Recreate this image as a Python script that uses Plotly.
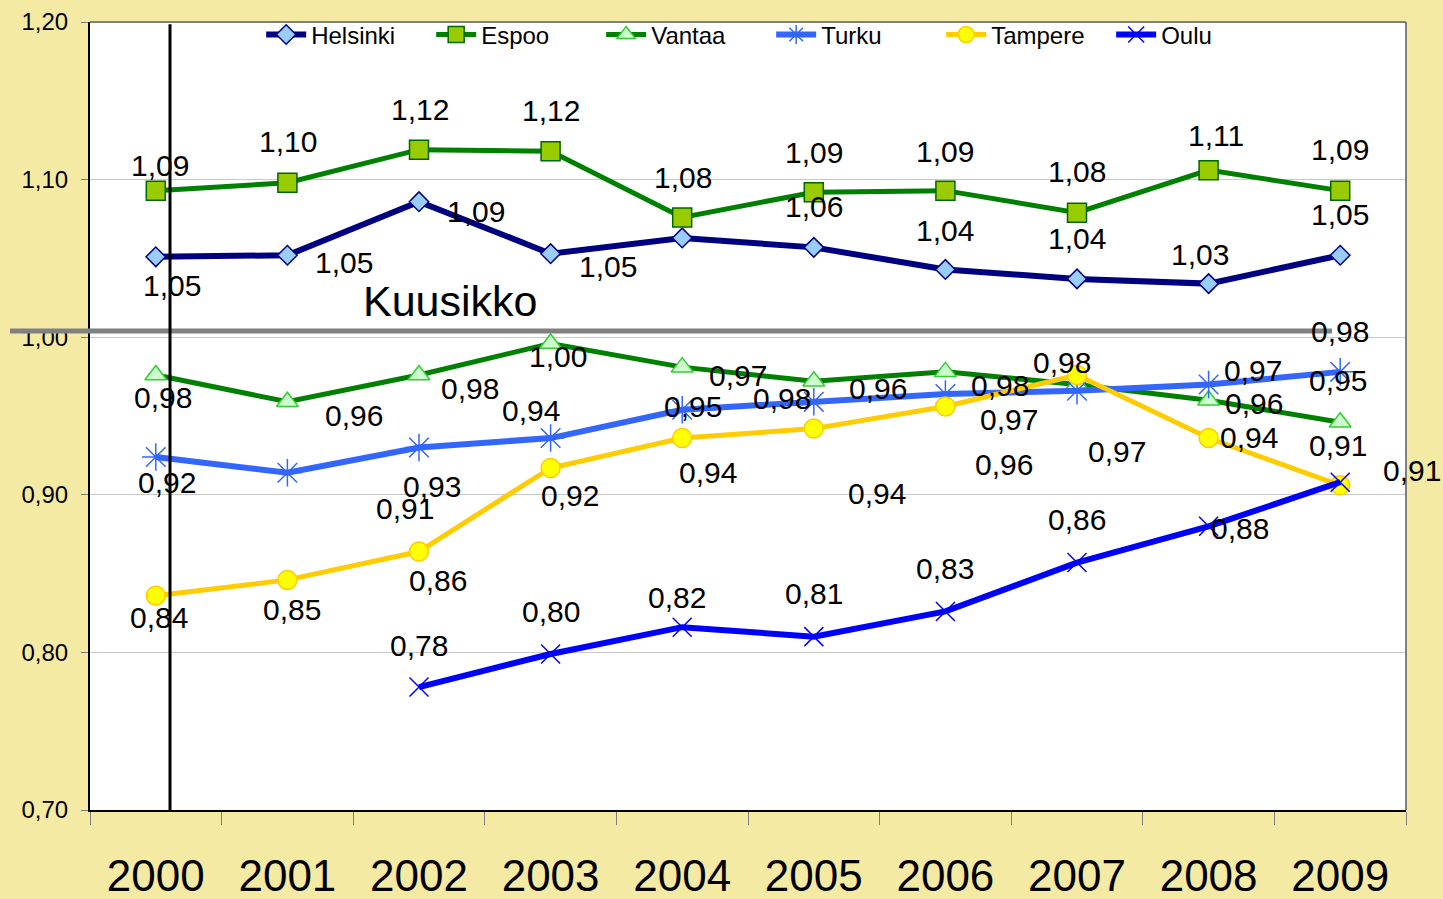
import plotly.graph_objects as go

# ---------------- data ----------------
years = ["2000", "2001", "2002", "2003", "2004", "2005", "2006", "2007", "2008", "2009"]

helsinki = [1.051, 1.052, 1.086, 1.053, 1.063, 1.057, 1.043, 1.037, 1.034, 1.052]
espoo    = [1.093, 1.098, 1.119, 1.118, 1.076, 1.092, 1.093, 1.079, 1.106, 1.093]
vantaa   = [0.976, 0.959, 0.976, 0.996, 0.981, 0.972, 0.978, 0.970, 0.960, 0.946]
turku    = [0.924, 0.914, 0.930, 0.936, 0.954, 0.959, 0.964, 0.966, 0.970, 0.978]
tampere  = [0.836, 0.846, 0.864, 0.917, 0.936, 0.942, 0.956, 0.976, 0.936, 0.906]
oulu     = [None, None, 0.778, 0.799, 0.816, 0.810, 0.826, 0.857, 0.880, 0.908]

kuusikko_level = 1.004
kuusikko_text = "Kuusikko"

# ---------------- label placement (pixel offsets from each point; None = no label) ----------------
helsinki_lbl = [(16, -31), (57, -9), (57, -12), (57, -15), None, (0, 39), (0, 37), (0, 38), (-9, 27), (0, 39)]
espoo_lbl    = [(4, 23), (1, 39), (1, 38), (0, 39), (1, 38), (0, 38), (0, 37), (0, 39), (7, 33), (0, 39)]
vantaa_lbl   = [(7, -24), (67, -16), (51, -15), (7, -15), (100, -33), (-76, 4), (55, -16), (-68, -37), (45, -5), (-2, 40)]
turku_lbl    = [(11, -28), (118, -38), (13, -41), (-20, 26), (11, 1), (64, 11), None, (40, -63), (44, 12), (0, 38)]
tampere_lbl  = [(3, -24), (5, -32), (19, -31), (19, -29), (26, -36), (63, -67), (59, -60), (-15, 11), (40, -1), (-2, 38)]
oulu_lbl     = [None, None, (0, 40), (0, 40), (-5, 28), (0, 41), (0, 41), (0, 41), (31, -4), (72, 10)]

FONT = "Liberation Sans, Arial, sans-serif"

series = [
    dict(name="Helsinki", y=helsinki, lbl=helsinki_lbl, color="#000080", width=6,
         marker=dict(symbol="diamond", size=15, color="#99CCFF", line=dict(color="#000080", width=1.5))),
    dict(name="Espoo", y=espoo, lbl=espoo_lbl, color="#008000", width=5,
         marker=dict(symbol="square", size=19, color="#99CC00", line=dict(color="#006600", width=1.5))),
    dict(name="Vantaa", y=vantaa, lbl=vantaa_lbl, color="#008000", width=5,
         marker=dict(symbol="triangle-up", size=19, color="#CCFFCC", line=dict(color="#33CC33", width=1.5))),
    dict(name="Turku", y=turku, lbl=turku_lbl, color="#3366FF", width=6,
         marker=dict(symbol="asterisk-open", size=23, color="#3366FF", line=dict(color="#3366FF", width=1.5))),
    dict(name="Tampere", y=tampere, lbl=tampere_lbl, color="#FFCC00", width=5,
         marker=dict(symbol="circle", size=19, color="#FFFF00", line=dict(color="#FFCC00", width=1.5))),
    dict(name="Oulu", y=oulu, lbl=oulu_lbl, color="#0000FF", width=6,
         marker=dict(symbol="x-thin-open", size=19, color="#0000FF", line=dict(color="#0000FF", width=1.5))),
]

fig = go.Figure()
annotations = []
for s in series:
    fig.add_trace(go.Scatter(
        x=years, y=s["y"], name=s["name"], mode="lines+markers",
        line=dict(color=s["color"], width=s["width"]),
        marker=s["marker"], connectgaps=False,
    ))
    for i, (v, off) in enumerate(zip(s["y"], s["lbl"])):
        if v is None or off is None:
            continue
        annotations.append(dict(
            x=i, y=v, xref="x", yref="y", text=f"{v:.2f}".replace(".", ","),
            showarrow=False, xshift=off[0], yshift=off[1] + 2,
            font=dict(family=FONT, size=30, color="black"),
            xanchor="center", yanchor="middle",
        ))

annotations.append(dict(
    x=2.236, y=kuusikko_level, xref="x", yref="y", text=kuusikko_text, showarrow=False,
    yshift=30, font=dict(family=FONT, size=43, color="black"),
    xanchor="center", yanchor="middle",
))

shapes = [
    # Kuusikko reference line
    dict(type="line", xref="paper", yref="y", x0=-0.0608, x1=0.9438,
         y0=kuusikko_level, y1=kuusikko_level, line=dict(color="#808080", width=5)),
    # vertical divider line
    dict(type="line", xref="x", yref="paper", x0=0.108, x1=0.108, y0=0, y1=0.997,
         line=dict(color="black", width=3)),
    # top and right border of plot area
    dict(type="line", xref="paper", yref="paper", x0=0, x1=1, y0=1, y1=1,
         line=dict(color="#808080", width=2)),
    dict(type="line", xref="paper", yref="paper", x0=1, x1=1, y0=0, y1=1,
         line=dict(color="#808080", width=2)),
]

fig.update_layout(
    width=1443, height=899, autosize=False,
    margin=dict(l=90, r=37, t=18, b=89),
    paper_bgcolor="#F5EAA4", plot_bgcolor="white",
    separators=",.",
    font=dict(family=FONT, color="black"),
    showlegend=True,
    legend=dict(orientation="h", x=0.5176, xanchor="center", y=0.9836, yanchor="middle",
                bgcolor="rgba(0,0,0,0)", font=dict(size=24, family=FONT),
                entrywidth=115, entrywidthmode="pixels", itemwidth=40),
    annotations=annotations,
    shapes=shapes,
    xaxis=dict(type="category", range=[-0.5, 9.5], showline=True, linecolor="black", linewidth=2,
               ticks="outside", tickson="boundaries", ticklen=13, tickcolor="#808080", tickwidth=1,
               tickfont=dict(size=44, family=FONT, color="black"), showgrid=False,
               ticklabelstandoff=26, fixedrange=True, automargin=False),
    yaxis=dict(range=[0.7, 1.2], tick0=0.7, dtick=0.1, tickformat=".2f",
               showgrid=True, gridcolor="#C8C8C8", gridwidth=1, zeroline=False,
               showline=True, linecolor="black", linewidth=2,
               ticks="outside", ticklen=7, tickcolor="#808080", tickwidth=1,
               tickfont=dict(size=24, family=FONT, color="black"), ticklabelstandoff=8,
               fixedrange=True, automargin=False),
)

fig.write_html("out.html", config={"displayModeBar": False},
               post_script="document.body.style.margin='0';document.body.style.overflow='hidden';")
